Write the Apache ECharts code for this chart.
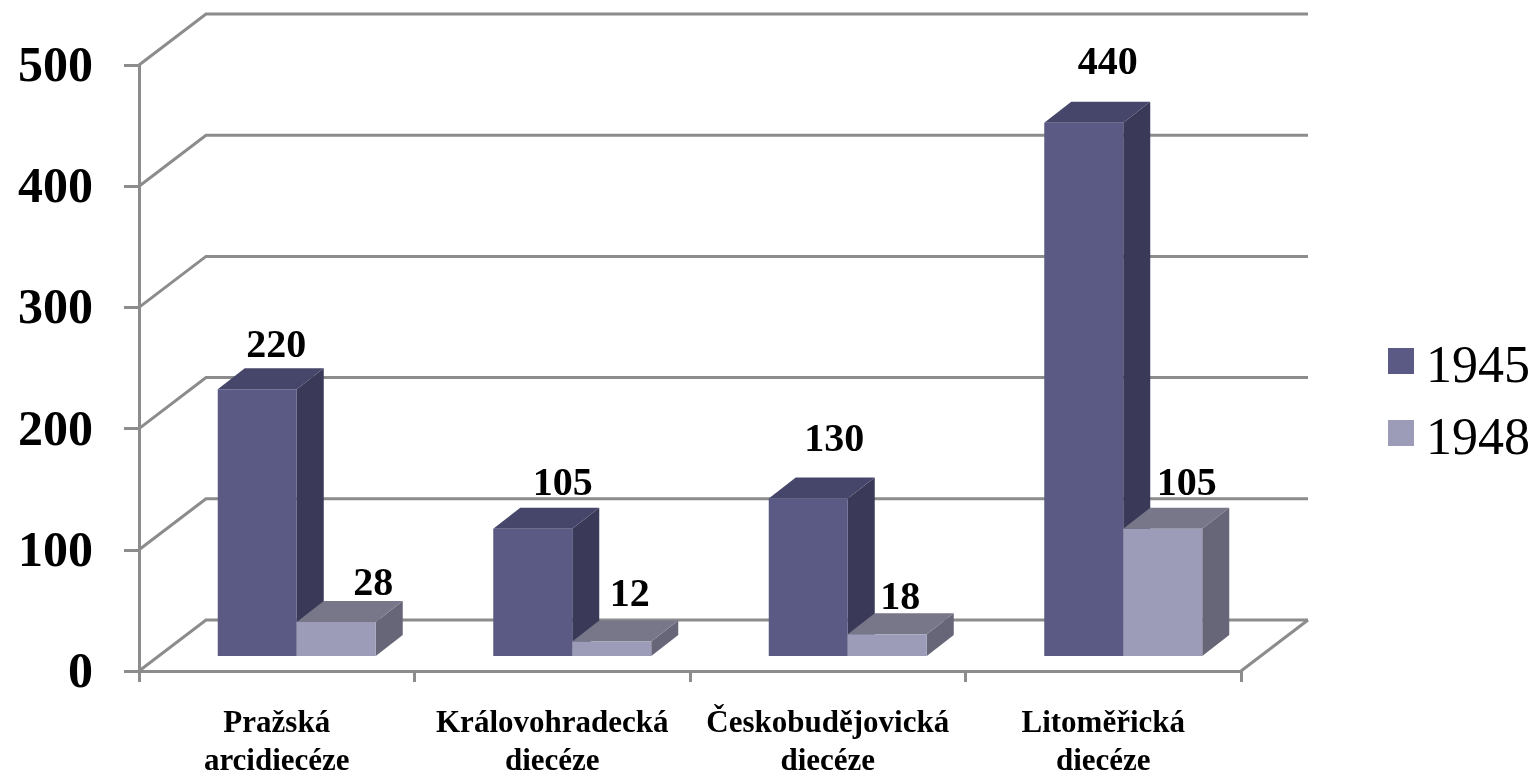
<!DOCTYPE html>
<html>
<head>
<meta charset="utf-8">
<script src="https://cdn.jsdelivr.net/npm/echarts@6/dist/echarts.min.js"></script>
<style>
html, body { margin: 0; padding: 0; background: #fff; }
#chart { width: 1532px; height: 773px; }
</style>
</head>
<body>
<div id="chart"></div>
<script>
var categories = ['Pražská\narcidiecéze', 'Královohradecká\ndiecéze', 'Českobudějovická\ndiecéze', 'Litoměřická\ndiecéze'];
var values1945 = [220, 105, 130, 440];
var values1948 = [28, 12, 18, 105];
var yTicks = [0, 100, 200, 300, 400, 500];

// the value labels were moved by hand in the original, so each has its own shift
var labelShift1945 = [[19, -43], [30, -44], [26, -58], [24, -59]];
var labelShift1948 = [[37, -37], [18, -46], [13, -36], [24, -44]];

var font = '"Liberation Serif", serif';
var wallDx = 67, wallDy = -51;   // back wall relative to the front plane
var baseDx = 20, baseDy = -15;   // bars stand inside the floor
var depthDx = 27, depthDy = -21; // bar depth
var barW = 79;
var gridColor = '#8c8c8c';

function walls(params, api) {
    var p = api.coord([0, api.value(1)]);
    var cs = params.coordSys;
    var left = cs.x, right = cs.x + cs.width;
    var children = [{
        type: 'polyline',
        shape: { points: [[left, p[1]], [left + wallDx, p[1] + wallDy], [right + wallDx, p[1] + wallDy]] },
        style: { fill: null, stroke: gridColor, lineWidth: 3 }
    }];
    if (api.value(1) === 0) {
        children.push({
            type: 'line',
            shape: { x1: right, y1: p[1], x2: right + wallDx, y2: p[1] + wallDy },
            style: { stroke: gridColor, lineWidth: 3 }
        });
    }
    return { type: 'group', children: children };
}

function barRender(side, colors, shifts) {
    return function (params, api) {
        var i = api.value(0);
        var top = api.coord([i, api.value(1)]);
        var base = api.coord([i, 0]);
        var x0 = top[0] + baseDx + (side === 0 ? -barW : 0);
        var x1 = x0 + barW;
        var y0 = base[1] + baseDy;
        var y1 = top[1] + baseDy;
        var s = shifts[i];
        return {
            type: 'group',
            children: [
                { type: 'polygon', shape: { points: [[x1, y0], [x1 + depthDx, y0 + depthDy], [x1 + depthDx, y1 + depthDy], [x1, y1]] }, style: { fill: colors.side } },
                { type: 'polygon', shape: { points: [[x0, y1], [x1, y1], [x1 + depthDx, y1 + depthDy], [x0 + depthDx, y1 + depthDy]] }, style: { fill: colors.top } },
                { type: 'rect', shape: { x: x0, y: y1, width: barW, height: y0 - y1 }, style: { fill: colors.front } },
                {
                    type: 'text',
                    z2: 50,
                    style: {
                        text: String(api.value(1)),
                        x: (x0 + x1) / 2 + s[0],
                        y: y1 + s[1],
                        align: 'center',
                        verticalAlign: 'middle',
                        font: 'bold 40px ' + font,
                        fill: '#000'
                    }
                }
            ]
        };
    };
}

var chart = echarts.init(document.getElementById('chart'));
chart.setOption({
    animation: false,
    backgroundColor: '#fff',
    grid: { left: 139, right: 291, top: 65, bottom: 102, outerBoundsMode: 'none' },
    legend: {
        orient: 'vertical',
        left: 1388,
        top: 328,
        padding: 0,
        itemWidth: 26,
        itemHeight: 26,
        itemGap: 6,
        icon: 'rect',
        data: ['1945', '1948'],
        formatter: function (name) { return '{y|' + name + '}'; },
        textStyle: {
            rich: { y: { fontFamily: font, fontSize: 52, color: '#000', padding: [14, 0, 0, 7], lineHeight: 50 } }
        },
        selectedMode: false
    },
    xAxis: {
        type: 'category',
        data: categories,
        axisLine: { lineStyle: { color: gridColor, width: 3 } },
        axisTick: { show: true, alignWithLabel: false, length: 11, lineStyle: { color: gridColor, width: 3 } },
        axisLabel: { interval: 0, margin: 34, fontFamily: font, fontWeight: 'bold', fontSize: 31, lineHeight: 38, color: '#000' }
    },
    yAxis: {
        type: 'value',
        min: 0,
        max: 500,
        interval: 100,
        splitLine: { show: false },
        axisLine: { show: true, lineStyle: { color: gridColor, width: 3 } },
        axisTick: { show: true, length: 15, lineStyle: { color: gridColor, width: 3 } },
        axisLabel: { margin: 46, fontFamily: font, fontWeight: 'bold', fontSize: 50, color: '#000', verticalAlign: 'top', lineHeight: 6 }
    },
    series: [{
        type: 'custom',
        name: 'walls',
        silent: true,
        clip: false,
        z: 1,
        renderItem: walls,
        data: yTicks.map(function (t) { return [0, t]; })
    }, {
        type: 'custom',
        name: '1945',
        clip: false,
        z: 3,
        itemStyle: { color: '#5a5a85' },
        renderItem: barRender(0, { front: '#5a5a85', side: '#3a3a58', top: '#46466a' }, labelShift1945),
        data: values1945.map(function (v, i) { return [i, v]; })
    }, {
        type: 'custom',
        name: '1948',
        clip: false,
        z: 4,
        itemStyle: { color: '#9d9cb8' },
        renderItem: barRender(1, { front: '#9d9cb8', side: '#666678', top: '#777789' }, labelShift1948),
        data: values1948.map(function (v, i) { return [i, v]; })
    }]
});
</script>
</body>
</html>
